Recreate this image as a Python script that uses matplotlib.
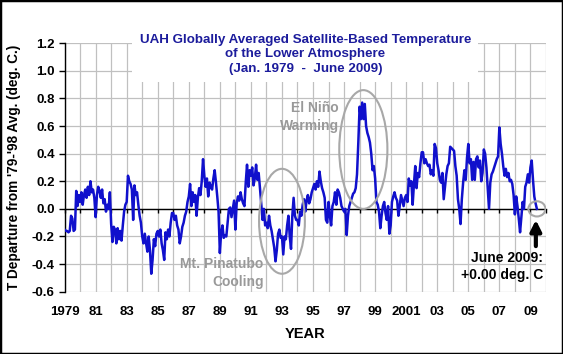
import matplotlib.pyplot as plt
import numpy as np
from matplotlib.patches import Ellipse, Rectangle

plt.rcParams['font.family'] = ['Liberation Sans', 'DejaVu Sans']
plt.rcParams['font.weight'] = 'bold'
plt.rcParams['axes.labelweight'] = 'bold'

start_year = 1979
# monthly anomaly (deg C), Jan 1979 .. Jun 2009, one row per year
anomaly = [
    -0.15, -0.16, -0.16, -0.17, -0.16, -0.05, -0.07, -0.16, -0.15, 0.13, 0.02, 0.10,
    0.05, 0.12, 0.03, 0.10, 0.14, 0.08, 0.16, 0.10, 0.20, 0.12, 0.14, 0.08,
    -0.06, 0.10, 0.16, 0.13, 0.08, 0.14, 0.04, 0.07, -0.02, 0.03, 0.00, 0.12,
    -0.11, -0.24, -0.13, -0.15, -0.25, -0.14, -0.22, -0.16, -0.23, -0.12, -0.02, 0.03,
    0.05, 0.24, 0.20, 0.18, 0.14, -0.08, 0.17, 0.10, 0.12, 0.03, -0.05, -0.10,
    -0.20, -0.25, -0.18, -0.25, -0.31, -0.20, -0.30, -0.47, -0.37, -0.22, -0.27, -0.18,
    -0.16, -0.20, -0.15, -0.25, -0.30, -0.37, -0.17, -0.22, -0.15, -0.20, -0.10, -0.03,
    -0.03, -0.08, -0.05, -0.12, -0.15, -0.25, -0.20, -0.13, -0.10, -0.05, -0.02, 0.05,
    0.09, 0.18, 0.02, 0.12, 0.05, 0.10, -0.05, 0.08, 0.15, 0.10, 0.20, 0.36,
    0.24, 0.16, 0.22, 0.09, 0.19, 0.16, 0.14, 0.22, 0.28, 0.19, 0.09, -0.02,
    -0.32, -0.17, -0.12, -0.21, -0.19, -0.20, -0.10, 0.00, 0.01, -0.06, 0.00, 0.06,
    -0.15, 0.04, 0.09, 0.06, 0.12, 0.07, 0.04, 0.02, 0.19, 0.32, 0.16, 0.28,
    0.24, 0.30, 0.17, 0.22, 0.32, 0.21, 0.26, 0.15, 0.03, -0.08, 0.00, -0.12,
    -0.10, -0.14, -0.05, -0.12, -0.16, -0.22, -0.28, -0.38, -0.30, -0.18, -0.15, -0.21,
    -0.20, -0.33, -0.20, -0.22, -0.12, -0.05, -0.20, -0.29, -0.05, 0.08, -0.05, -0.08,
    -0.08, -0.12, -0.02, -0.05, 0.03, 0.07, -0.02, 0.06, 0.10, 0.04, 0.07, 0.12,
    0.15, 0.18, 0.14, 0.20, 0.16, 0.27, 0.20, 0.15, 0.12, 0.08, -0.08, -0.10,
    0.05, -0.05, -0.12, 0.02, 0.05, 0.12, 0.03, 0.14, 0.12, 0.08, 0.02, 0.00,
    -0.02, 0.00, -0.19, -0.05, 0.02, 0.05, 0.08, 0.11, 0.12, 0.15, 0.25, 0.48,
    0.74, 0.65, 0.77, 0.65, 0.76, 0.60, 0.55, 0.52, 0.48, 0.40, 0.28, 0.31,
    0.22, 0.05, 0.03, -0.02, -0.14, -0.05, 0.02, 0.05, -0.03, -0.08, 0.02, -0.18,
    -0.12, 0.05, 0.09, 0.12, 0.08, 0.06, -0.05, 0.02, 0.10, 0.06, 0.02, 0.08,
    0.10, 0.05, 0.22, 0.17, 0.20, 0.03, 0.18, 0.31, 0.15, 0.26, 0.23, 0.33,
    0.41, 0.41, 0.33, 0.36, 0.33, 0.31, 0.32, 0.25, 0.28, 0.24, 0.47, 0.44,
    0.33, 0.28, 0.21, 0.19, 0.26, 0.07, 0.16, 0.25, 0.31, 0.33, 0.45, 0.44,
    0.43, 0.42, 0.31, 0.24, 0.07, 0.00, -0.11, 0.07, 0.19, 0.28, 0.21, 0.37,
    0.47, 0.33, 0.36, 0.21, 0.34, 0.21, 0.36, 0.38, 0.30, 0.35, 0.20, 0.26,
    0.43, 0.40, 0.30, 0.15, 0.00, 0.19, 0.25, 0.27, 0.30, 0.33, 0.36, 0.38,
    0.59, 0.47, 0.40, 0.31, 0.24, 0.29, 0.23, 0.26, 0.20, 0.21, 0.18, 0.10,
    -0.04, 0.09, 0.02, -0.07, -0.17, -0.06, 0.05, 0.00, 0.16, 0.19, 0.25, 0.19,
    0.30, 0.35, 0.21, 0.09, 0.04, 0.00,
]

tick_years = list(range(1979, 2010, 2))
tick_labels = ['1979', '81', '83', '85', '87', '89', '91', '93', '95', '97',
               '99', '2001', '03', '05', '07', '09']
y_ticks = np.round(np.arange(-0.6, 1.21, 0.2), 1)

t = start_year + np.arange(len(anomaly)) / 12.0

grid_c = '#c0c0c0'
note_c = '#999999'
title_c = '#1c1c9c'

fig = plt.figure(figsize=(5.63, 3.54), dpi=100)
ax = fig.add_axes([0.1147, 0.176, 0.855, 0.702])
ax.set_xlim(1979, 2010)
ax.set_ylim(-0.6, 1.2)
ax.set_axisbelow(True)

ax.set_xticks(range(1979, 2011), minor=True)
ax.set_xticks(tick_years)
ax.set_xticklabels(tick_labels, fontweight='bold')
ax.grid(True, which='both', axis='x', color=grid_c, lw=0.9)
ax.grid(True, axis='y', color=grid_c, lw=0.9)
ax.tick_params(axis='x', which='both', length=0, pad=10, labelsize=9.5)

ax.set_yticks(y_ticks)
ax.set_yticklabels(['%.1f' % v for v in y_ticks], fontweight='bold')
ax.tick_params(axis='y', length=4, width=1, pad=3, labelsize=9.5)
for s in ['top', 'right', 'bottom']:
    ax.spines[s].set_visible(False)
ax.spines['left'].set_linewidth(1)

# x axis line crossing at zero, with yearly tick marks
zero_axis = ax.secondary_xaxis(0.6 / 1.8)
zero_axis.set_zorder(2)
zero_axis.set_xticks(range(1979, 2011))
zero_axis.tick_params(length=3, width=1, labelbottom=False, direction='out')
zero_axis.spines['bottom'].set_linewidth(1)

ax.plot(t, anomaly, color='#1010cc', lw=1.8, zorder=3)

# title block (white box hides the gridlines)
ax.add_patch(Rectangle((0.14, 0.844), 0.719, 0.21, transform=ax.transAxes,
                       fc='white', ec='none', clip_on=False, zorder=1.5))
ax.text(0.5, 0.955, 'UAH Globally Averaged Satellite-Based Temperature\n'
        'of the Lower Atmosphere\n(Jan. 1979  -  June 2009)',
        transform=ax.transAxes, ha='center', va='center', color=title_c,
        fontsize=9.6, fontweight='bold', linespacing=1.3, zorder=2)

# annotations
ax.add_patch(Ellipse((1993.0, -0.09), 2.95, 0.76, fill=False, ec='#a8a8a8', lw=1.5, zorder=4))
ax.add_patch(Ellipse((1998.24, 0.43), 3.1, 0.86, fill=False, ec='#a8a8a8', lw=1.5, zorder=4))
ax.add_patch(Ellipse((2009.42, 0.0), 1.1, 0.11, fill=False, ec='#a8a8a8', lw=1.5, zorder=4))

note_kw = dict(va='center', multialignment='right', fontsize=10,
               fontweight='bold', linespacing=1.3, zorder=5)
ax.text(1996.67, 0.665, 'El Niño\nWarming', ha='right', color=note_c, **note_kw)
ax.text(1991.82, -0.465, 'Mt. Pinatubo\nCooling', ha='right', color=note_c, **note_kw)
ax.text(2009.8, -0.417, 'June 2009:\n+0.00 deg. C', ha='right', color='black', **note_kw)
ax.annotate('', xy=(2009.35, -0.06), xytext=(2009.35, -0.29),
            arrowprops=dict(arrowstyle='-|>', color='black', lw=3, mutation_scale=16),
            zorder=5)

ax.set_xlabel('YEAR', fontsize=10.5, fontweight='bold', labelpad=7)
ax.set_ylabel("T Departure from '79-'98 Avg. (deg. C.)", fontsize=9.8,
              fontweight='bold', labelpad=8)

fig.add_artist(Rectangle((0, 0), 1, 1, transform=fig.transFigure, fill=False,
                         ec='black', lw=2.5))

fig.savefig('out.png', dpi=100)
